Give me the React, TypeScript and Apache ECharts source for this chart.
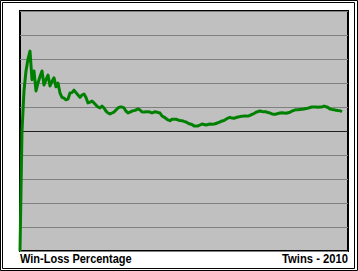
import React, { useEffect, useRef } from "react";
import * as echarts from "echarts";

// Win-loss percentage after each game (game 1 .. 162)
const winPct: number[] = [
  0, 0.5, 0.667, 0.75, 0.8, 0.833, 0.714, 0.75, 0.667, 0.7,
  0.727, 0.75, 0.692, 0.714, 0.733, 0.6875, 0.706, 0.722, 0.684, 0.7,
  0.658, 0.64, 0.637, 0.63, 0.633, 0.658, 0.66, 0.67, 0.66, 0.65,
  0.64, 0.65, 0.654, 0.64, 0.617, 0.62, 0.625, 0.617, 0.608, 0.6,
  0.596, 0.604, 0.596, 0.583, 0.575, 0.571, 0.575, 0.579, 0.5875, 0.596,
  0.6, 0.6, 0.596, 0.583, 0.575, 0.579, 0.583, 0.585, 0.5875, 0.592,
  0.5875, 0.58, 0.579, 0.58, 0.58, 0.579, 0.575, 0.579, 0.58, 0.577,
  0.575, 0.5625, 0.558, 0.552, 0.546, 0.543, 0.549, 0.549, 0.549, 0.546,
  0.544, 0.543, 0.54, 0.5375, 0.533, 0.529, 0.527, 0.521, 0.521, 0.521,
  0.525, 0.529, 0.527, 0.525, 0.527, 0.529, 0.528, 0.529, 0.531, 0.535,
  0.5375, 0.542, 0.544, 0.549, 0.554, 0.557, 0.554, 0.553, 0.556, 0.558,
  0.56, 0.561, 0.5625, 0.563, 0.562, 0.565, 0.569, 0.573, 0.578, 0.581,
  0.583, 0.581, 0.58, 0.58, 0.577, 0.575, 0.571, 0.57, 0.57, 0.573,
  0.575, 0.576, 0.575, 0.574, 0.576, 0.578, 0.583, 0.586, 0.589, 0.589,
  0.59, 0.591, 0.592, 0.594, 0.595, 0.598, 0.6, 0.6, 0.6, 0.599,
  0.6, 0.6, 0.604, 0.601, 0.598, 0.592, 0.59, 0.589, 0.586, 0.585,
  0.5845, 0.58,
];

const chartTitleLeft = "Win-Loss Percentage";
const chartTitleRight = "Twins - 2010";
const evenLine = 0.5;

export default function App() {
  const ref = useRef<HTMLDivElement>(null);

  useEffect(() => {
    if (!ref.current) return;
    const chart = echarts.init(ref.current, null, { renderer: "svg" });
    const data = winPct.map((v, i) => [i + 1, v]);
    chart.setOption({
      animation: false,
      backgroundColor: "#ffffff",
      grid: {
        left: 20,
        right: 10,
        top: 11,
        bottom: 20,
        show: true,
        backgroundColor: "#c0c0c0",
        borderColor: "#000000",
        borderWidth: 2,
      },
      xAxis: {
        type: "value",
        min: 1,
        max: 165,
        show: false,
      },
      yAxis: {
        type: "value",
        min: 0,
        max: 1,
        interval: 0.1,
        axisLine: { show: false },
        axisTick: { show: false },
        axisLabel: { show: false },
        splitLine: { show: true, lineStyle: { color: "#808080", width: 1 } },
      },
      series: [
        {
          type: "line",
          data,
          showSymbol: false,
          symbol: "none",
          lineStyle: { color: "#008000", width: 3, join: "round" },
          clip: true,
          markLine: {
            silent: true,
            symbol: ["none", "none"],
            label: { show: false },
            lineStyle: { color: "#202020", width: 1, type: "solid" },
            data: [{ yAxis: evenLine }],
            z: 1,
          },
          z: 3,
        },
      ],
      graphic: [
        {
          type: "rect",
          shape: { x: 0.5, y: 0.5, width: 357, height: 270 },
          style: { fill: "none", stroke: "#000", lineWidth: 1 },
          silent: true,
        },
        {
          type: "rect",
          shape: { x: 2.5, y: 2.5, width: 352, height: 266 },
          style: { fill: "none", stroke: "#000", lineWidth: 1 },
          silent: true,
        },
        {
          type: "text",
          x: 20,
          y: 265,
          scaleX: 0.88,
          style: {
            text: chartTitleLeft,
            fill: "#000",
            font: "bold 12.5px 'Liberation Sans', Arial, sans-serif",
            textAlign: "left",
            textVerticalAlign: "bottom",
          },
        },
        {
          type: "text",
          x: 348,
          y: 265,
          scaleX: 0.9,
          style: {
            text: chartTitleRight,
            fill: "#000",
            font: "bold 12.5px 'Liberation Sans', Arial, sans-serif",
            textAlign: "right",
            textVerticalAlign: "bottom",
          },
        },
      ],
    });
    return () => chart.dispose();
  }, []);

  return (
    <div
      ref={ref}
      style={{ position: "fixed", left: 0, top: 0, width: 358, height: 271 }}
    />
  );
}
